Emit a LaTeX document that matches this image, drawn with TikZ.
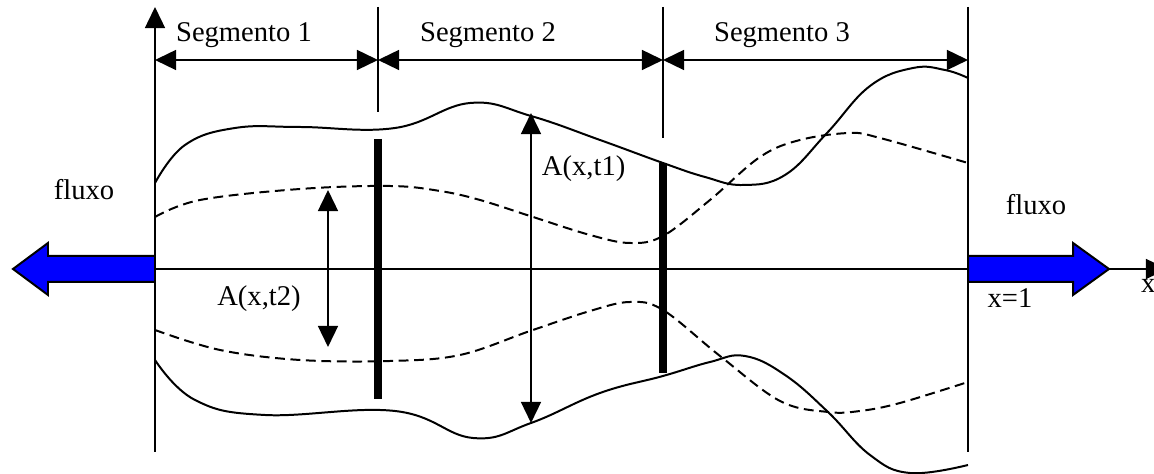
\documentclass[tikz,border=0pt]{standalone}
\usepackage{fontspec}
\setmainfont{Liberation Serif}
\usetikzlibrary{arrows.meta}

\begin{document}
\begin{tikzpicture}[x=0.015cm, y=-0.015cm, line width=0.85pt,
    >={Triangle[length=9pt,width=8.5pt]},
    lbl/.style={font=\fontsize{12.2}{14}\selectfont, inner sep=0pt},
    bar/.style={line width=3.4pt},
    later/.style={dash pattern=on 4.2pt off 2.4pt},
    flow/.style={fill=blue, draw=black, line width=0.85pt}]
  \useasboundingbox (0,0) rectangle (1154,474);
  % axes
  \coordinate (o) at (155,269);
  \coordinate (ytop) at (155,7);
  \coordinate (ybot) at (155,452);
  \coordinate (xend) at (1167,269);
  \draw (ybot) -- (o);
  \draw[->] (o) -- (ytop);
  \draw[->] (o) -- (xend);
  \node[lbl, anchor=west] (xlab) at (1140,286) {x};
  % segment borders
  \coordinate (b1t) at (378,7);   \coordinate (b1b) at (378,112);
  \coordinate (b2t) at (663,7);   \coordinate (b2b) at (663,138);
  \coordinate (b3t) at (968,7);   \coordinate (b3b) at (968,452);
  \draw (b1t) -- (b1b);
  \draw (b2t) -- (b2b);
  \draw (b3t) -- (b3b);
  % segment arrows
  \coordinate (s0) at (155,60);
  \coordinate (s1) at (378,60);
  \coordinate (s2) at (663,60);
  \coordinate (s3) at (968,60);
  \draw[<->] (s0) -- (s1);
  \draw[<->] (s1) -- (s2);
  \draw[<->] (s2) -- (s3);
  \node[lbl] (seg1) at (244,35) {Segmento 1};
  \node[lbl] (seg2) at (488,35) {Segmento 2};
  \node[lbl] (seg3) at (782,35) {Segmento 3};
  % walls at time t1
  \draw plot[smooth, tension=0.7] coordinates {(155,183) (185,145) (235,128) (300,127)
    (395,128) (470,103) (531,116) (600,140) (663,163) (705,177) (743,185)
    (785,175) (827,133) (870,86) (913,68) (945,70) (968,78)};
  \draw plot[smooth, tension=0.7] coordinates {(155,360) (195,400) (265,415) (395,411)
    (473,438) (531,423) (600,393) (663,376) (710,362) (745,356) (785,375)
    (828,412) (870,455) (910,473) (968,465)};
  % walls at time t2
  \draw[later] plot[smooth, tension=0.6] coordinates {(155,217) (200,200) (300,189)
    (390,186) (440,191) (480,200) (530,216) (590,235) (630,243) (663,236) (710,200)
    (760,157) (800,140) (850,133) (880,138) (968,163)};
  \draw[later] plot[smooth, tension=0.6] coordinates {(155,330) (220,350) (300,360)
    (390,361) (460,355) (530,331) (590,311) (630,302) (663,310) (720,356) (780,401)
    (828,412) (860,411) (900,403) (968,382)};
  % segment cuts
  \coordinate (c1t) at (378,139);  \coordinate (c1b) at (378,399);
  \coordinate (c2t) at (663,163);  \coordinate (c2b) at (663,373);
  \draw[bar] (c1t) -- (c1b);
  \draw[bar] (c2t) -- (c2b);
  % areas
  \coordinate (a1t) at (531,113);  \coordinate (a1b) at (531,423);
  \coordinate (a2t) at (328,190);  \coordinate (a2b) at (328,347);
  \draw[<->] (a1b) -- (a1t);
  \draw[<->] (a2b) -- (a2t);
  \node[lbl, anchor=west] (A1) at (541,169) {A(x,t1)};
  \node[lbl] (A2) at (259,299) {A(x,t2)};
  % flow in and out
  \draw[flow] (155,256) -- (48,256) -- (48,243) -- (13,269) -- (48,295) -- (48,282)
    -- (155,282) -- cycle;
  \draw[flow] (968,256) -- (1073,256) -- (1073,243) -- (1109,269) -- (1073,295)
    -- (1073,282) -- (968,282) -- cycle;
  \node[lbl] (fl1) at (84,190) {fluxo};
  \node[lbl] (fl2) at (1036,205) {fluxo};
  \node[lbl] (x1) at (1010,298) {x=1};
\end{tikzpicture}
\end{document}
